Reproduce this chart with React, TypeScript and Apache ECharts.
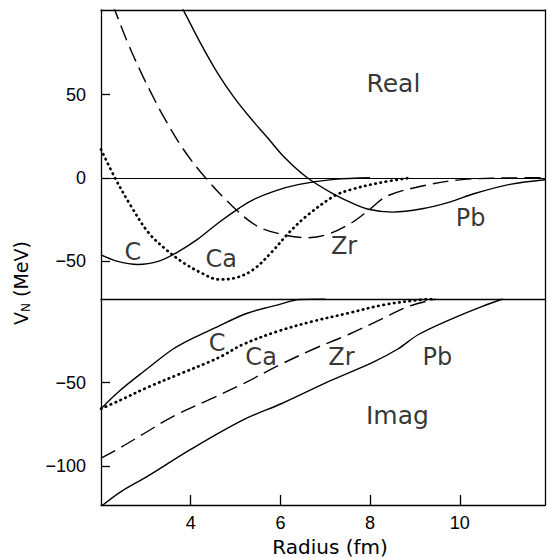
import React, { useEffect, useRef } from 'react';
import * as echarts from 'echarts';

// Real part of the nuclear potential V_N (MeV) vs radius (fm)
const realC: number[][] = [[2.0, -46.5], [2.35, -50.2], [2.82, -52.2], [3.29, -50.2], [3.68, -45.2], [4.15, -37.1], [4.62, -27.1], [5.09, -18.1], [5.4, -13.1], [5.87, -8.0], [6.42, -4.0], [7.2, -1.0], [8.0, 0]];
const realCa: number[][] = [[2.0, 17], [2.33, -1], [2.67, -17.1], [3.06, -33.1], [3.45, -43.2], [3.84, -51.2], [4.23, -57.2], [4.62, -61.2], [5.01, -60.2], [5.4, -55.2], [5.79, -45.2], [6.19, -33.1], [6.58, -23.1], [7.2, -11], [7.59, -7], [8.22, -3], [8.9, 0]];
const realZr: number[][] = [[2.25, 104.5], [2.31, 100.8], [2.6, 81], [2.9, 63], [3.1, 52], [3.37, 38], [3.84, 17], [4.33, 0], [4.93, -17.1], [5.48, -29.1], [6.03, -34.1], [6.58, -36.1], [7.05, -34.1], [7.59, -27.1], [7.99, -19.1], [8.38, -11], [9.16, -5], [9.94, -1.4], [10.72, -0.3], [11.9, 0]];
const realPb: number[][] = [[3.78, 104], [3.84, 100.8], [4.2, 82], [4.6, 63], [4.95, 49], [5.3, 37], [5.7, 24.5], [6.1, 12], [6.6, 0], [7.2, -10], [7.59, -15.1], [7.99, -19.1], [8.5, -20.7], [9.16, -18.7], [9.79, -14.5], [10.33, -9.5], [11.12, -4.0], [11.9, -1.2]];

// Imaginary part
const imagC: number[][] = [[2.0, -65.5], [2.43, -54.5], [2.98, -42.7], [3.6, -30], [4.07, -23.1], [4.54, -17.3], [5.17, -9.4], [5.64, -5.5], [5.95, -3.5], [6.42, -0.3], [7.0, 0]];
const imagCa: number[][] = [[2.0, -65.5], [2.43, -60.4], [3.06, -52.5], [3.76, -44.7], [4.39, -37.8], [4.7, -34], [5.17, -27.1], [5.95, -19.2], [6.73, -13.3], [7.52, -8.4], [8.3, -3.5], [9.08, -0.6], [9.4, 0]];
const imagZr: number[][] = [[2.0, -95], [2.43, -88.8], [2.98, -80], [3.6, -70.2], [4.39, -60.4], [5.17, -50.6], [5.95, -39.8], [6.73, -30], [7.52, -21.2], [8.3, -11.4], [8.85, -4.5], [9.47, 0]];
const imagPb: number[][] = [[2.02, -123.5], [2.43, -115.3], [3.06, -105.5], [4.0, -89.8], [5.17, -72.2], [6.03, -62.4], [7.13, -48.6], [8.06, -37.8], [8.61, -30], [9.08, -21.2], [9.86, -11.4], [10.49, -4.5], [10.96, 0]];

// Axis ticks
const xTicks = [4, 6, 8, 10];
const realYTicks = [-50, 0, 50];
const imagYTicks = [-50, -100];

// Annotations (data coordinates)
const realLabels = [
  { name: 'Real', value: [8.52, 56.6], size: 25 },
  { name: 'C', value: [2.71, -44.6], size: 24 },
  { name: 'Ca', value: [4.68, -48.8], size: 24 },
  { name: 'Zr', value: [7.42, -41], size: 24 },
  { name: 'Pb', value: [10.24, -24.1], size: 24 },
];
const imagLabels = [
  { name: 'C', value: [4.59, -26.5], size: 24 },
  { name: 'Ca', value: [5.57, -34.7], size: 24 },
  { name: 'Zr', value: [7.36, -34.7], size: 24 },
  { name: 'Pb', value: [9.5, -34.7], size: 24 },
  { name: 'Imag', value: [8.61, -69.5], size: 25 },
];

const INK = '#000';
const TEXT_FONT = 'DejaVu Sans';
const TICK_FONT = 'Liberation Sans';

const solid = { color: INK, width: 1.4, type: 'solid' as const };
const dashed = { color: INK, width: 1.4, type: [16, 7] as any };
const dotted = { color: INK, width: 2.7, type: [0.5, 4.8] as any, cap: 'round' as const };

function lineSeries(data: number[][], style: any, axis: number, extra: any = {}) {
  return {
    type: 'line',
    data,
    xAxisIndex: axis,
    yAxisIndex: axis,
    smooth: 0.35,
    symbol: 'none',
    lineStyle: style,
    silent: true,
    ...extra,
  };
}

function labelSeries(items: any[], axis: number) {
  return {
    type: 'scatter',
    xAxisIndex: axis,
    yAxisIndex: axis,
    symbolSize: 1,
    itemStyle: { color: 'transparent' },
    silent: true,
    data: items.map((d) => ({
      name: d.name,
      value: d.value,
      label: {
        show: true,
        position: 'inside',
        formatter: d.name,
        fontSize: d.size,
        fontFamily: TEXT_FONT,
        color: INK,
      },
    })),
  };
}

const minus = (v: number) => String(v).replace('-', '\u2212');

const frameLine = { show: true, onZero: false, lineStyle: { color: INK, width: 1.3 } };
const hidden = { show: false };

export default function App() {
  const ref = useRef<HTMLDivElement>(null);
  useEffect(() => {
    const chart = echarts.init(ref.current!, null, { renderer: 'svg' });
    chart.setOption({
      animation: false,
      backgroundColor: '#fff',
      grid: [
        { left: 101, width: 444, top: 10, height: 289 },
        { left: 101, width: 444, top: 299, height: 209 },
      ],
      xAxis: [
        { type: 'value', gridIndex: 0, min: 2, max: 11.9, position: 'bottom', axisLine: frameLine, axisTick: hidden, axisLabel: hidden, splitLine: hidden },
        { type: 'value', gridIndex: 0, min: 2, max: 11.9, position: 'top', axisLine: frameLine, axisTick: hidden, axisLabel: hidden, splitLine: hidden },
        {
          type: 'value', gridIndex: 1, min: 2, max: 11.9, position: 'bottom',
          axisLine: frameLine,
          axisTick: { show: true, inside: true, length: 10, customValues: xTicks, lineStyle: { color: INK, width: 1.3 } },
          axisLabel: { show: true, customValues: xTicks, margin: 9, fontSize: 18, fontFamily: TICK_FONT, color: INK },
          splitLine: hidden,
          name: 'Radius (fm)',
          nameLocation: 'middle',
          nameGap: 32,
          nameTextStyle: { fontSize: 20, fontFamily: TEXT_FONT, color: INK, padding: [0, 0, 0, 14] },
        },
      ],
      yAxis: [
        {
          type: 'value', gridIndex: 0, min: -73, max: 101, position: 'left',
          axisLine: frameLine,
          axisTick: { show: true, inside: true, length: 9, customValues: realYTicks, lineStyle: { color: INK, width: 1.3 } },
          axisLabel: { show: true, customValues: realYTicks, margin: 15, fontSize: 18, fontFamily: TICK_FONT, color: INK, formatter: minus },
          splitLine: hidden,
        },
        { type: 'value', gridIndex: 0, min: -73, max: 101, position: 'right', axisLine: frameLine, axisTick: hidden, axisLabel: hidden, splitLine: hidden },
        {
          type: 'value', gridIndex: 1, min: -123, max: 0, position: 'left',
          axisLine: frameLine,
          axisTick: { show: true, inside: true, length: 9, customValues: imagYTicks, lineStyle: { color: INK, width: 1.3 } },
          axisLabel: { show: true, customValues: imagYTicks, margin: 15, fontSize: 18, fontFamily: TICK_FONT, color: INK, formatter: minus },
          splitLine: hidden,
        },
        { type: 'value', gridIndex: 1, min: -123, max: 0, position: 'right', axisLine: frameLine, axisTick: hidden, axisLabel: hidden, splitLine: hidden },
      ],
      graphic: [
        {
          type: 'text',
          x: 21,
          y: 283,
          rotation: Math.PI / 2,
          silent: true,
          style: {
            text: '{v|V}{s|N}{v| (MeV)}',
            align: 'center',
            verticalAlign: 'middle',
            fill: INK,
            rich: {
              v: { fontSize: 19, fontFamily: TEXT_FONT, lineHeight: 22, fill: INK },
              s: { fontSize: 12, fontFamily: TEXT_FONT, lineHeight: 12, verticalAlign: 'bottom', fill: INK },
            },
          },
        },
      ],
      series: [
        lineSeries(realC, solid, 0, {
          markLine: {
            silent: true,
            symbol: 'none',
            label: { show: false },
            lineStyle: { color: INK, width: 1.2, type: 'solid' },
            data: [{ yAxis: 0 }],
          },
        }),
        lineSeries(realCa, dotted, 0),
        lineSeries(realZr, dashed, 0),
        lineSeries(realPb, solid, 0),
        lineSeries(imagC, solid, 2),
        lineSeries(imagCa, dotted, 2),
        lineSeries(imagZr, dashed, 2),
        lineSeries(imagPb, solid, 2),
        labelSeries(realLabels, 0),
        labelSeries(imagLabels, 2),
      ],
    });
    return () => chart.dispose();
  }, []);
  return <div ref={ref} style={{ position: 'absolute', left: 0, top: 0, width: 548, height: 558 }} />;
}
